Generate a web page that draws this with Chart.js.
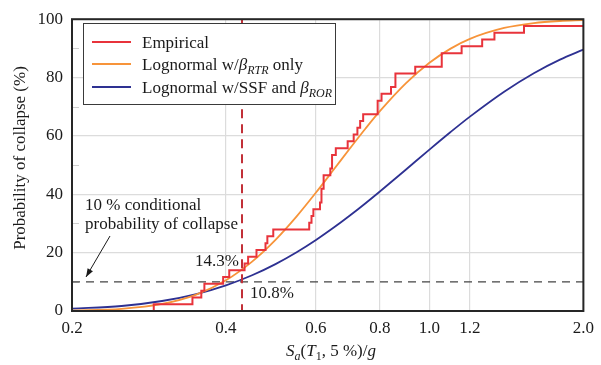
<!DOCTYPE html>
<html><head><meta charset="utf-8">
<script src="https://cdn.jsdelivr.net/npm/chart.js@4/dist/chart.umd.min.js"></script>
<style>html,body{margin:0;padding:0;background:#fff}#wrap{width:601px;height:365px;position:relative}</style>
</head><body><div id="wrap"><canvas id="c" width="601" height="365"></canvas></div>
<script>
// ---- data ----
const xTicks = [0.2, 0.4, 0.6, 0.8, 1.0, 1.2, 2.0];
const yTicks = [0, 20, 40, 60, 80, 100];

// Empirical collapse fragility (step function): Sa/g at which each step occurs, and % collapsed
const empX = [0.2, 0.289, 0.344, 0.358, 0.363, 0.395, 0.406, 0.435, 0.442, 0.459, 0.478, 0.482, 0.495,
  0.582, 0.588, 0.593, 0.611, 0.615, 0.621, 0.640, 0.645, 0.656, 0.692, 0.711, 0.723, 0.732, 0.742,
  0.792, 0.806, 0.841, 0.858, 0.938, 1.057, 1.156, 1.268, 1.340, 1.531, 2.0];
const empY = [0, 2.33, 4.65, 6.98, 9.30, 11.63, 13.95, 16.28, 18.60, 20.93, 23.26, 25.58, 27.91,
  30.23, 32.56, 34.88, 37.21, 41.86, 46.51, 48.84, 53.49, 55.81, 58.14, 60.47, 62.79, 65.12, 67.44,
  72.09, 74.42, 76.74, 81.40, 83.72, 88.37, 90.70, 93.02, 95.35, 97.67, 97.67];

// Lognormal curves sampled along Sa/g
const curveX = [0.2, 0.25, 0.3, 0.35, 0.4, 0.45, 0.5, 0.55, 0.6, 0.65, 0.7, 0.75, 0.8, 0.9, 1.0, 1.1, 1.2, 1.4, 1.6, 1.8, 2.0];
const rtrY = [0.14, 0.76, 2.44, 5.64, 10.53, 16.92, 24.38, 32.43, 40.59, 48.48, 55.84, 62.53, 68.47, 78.08, 85.06, 89.92, 93.25, 96.99, 98.66, 99.39, 99.72];
const rorY = [0.8, 1.71, 3.43, 5.81, 8.79, 12.25, 16.07, 20.13, 24.33, 28.58, 32.80, 36.94, 40.96, 48.50, 55.31, 61.34, 66.62, 75.17, 81.50, 86.16, 89.59];

const refSa = 0.43;      // vertical dashed line
const refP = 10;         // 10 % conditional probability line
const labelEmp = "14.3%";
const labelRor = "10.8%";

const FONT = "'Liberation Serif','Times New Roman',serif";
Chart.defaults.font.family = FONT;
Chart.defaults.font.size = 17;
Chart.defaults.color = '#1a1a1a';

function rich(ctx, parts, x, y, align, base, sub) {
  base = base || 17; sub = sub || 12;
  const f = p => `${p.i ? 'italic ' : ''}${p.s ? sub : base}px ${FONT}`;
  let w = 0;
  parts.forEach(p => { ctx.font = f(p); p.w = ctx.measureText(p.t).width; w += p.w; });
  let cx = align === 'center' ? x - w / 2 : x;
  ctx.textAlign = 'left'; ctx.textBaseline = 'alphabetic';
  parts.forEach(p => { ctx.font = f(p); ctx.fillText(p.t, cx, y + (p.s ? 4 : 0)); cx += p.w; });
}

const deco = {
  id: 'deco',
  beforeDatasetsDraw(chart) {
    const { ctx, chartArea: a, scales: { x, y } } = chart;
    ctx.save();
    ctx.strokeStyle = '#cfcfcf'; ctx.lineWidth = 1;
    for (let v = 10; v < 100; v += 20) {
      const py = Math.round(y.getPixelForValue(v)) + 0.5;
      ctx.beginPath(); ctx.moveTo(a.left, py); ctx.lineTo(a.left + 7, py); ctx.stroke();
    }
    // 10 % line
    ctx.setLineDash([8, 6]); ctx.strokeStyle = '#444'; ctx.lineWidth = 1.3;
    const py = y.getPixelForValue(refP);
    ctx.beginPath(); ctx.moveTo(a.left, py); ctx.lineTo(a.right, py); ctx.stroke();
    ctx.restore();
  },
  afterDatasetsDraw(chart) {
    const { ctx, chartArea: a, scales: { x, y } } = chart;
    ctx.save();
    // vertical dashed red line
    ctx.setLineDash([9, 6]); ctx.strokeStyle = '#c23038'; ctx.lineWidth = 2;
    const px = x.getPixelForValue(refSa);
    ctx.beginPath(); ctx.moveTo(px, a.top); ctx.lineTo(px, a.bottom); ctx.stroke();
    ctx.setLineDash([]);
    // plot frame
    ctx.strokeStyle = '#262626'; ctx.lineWidth = 2;
    ctx.strokeRect(a.left, a.top, a.right - a.left, a.bottom - a.top);

    // legend
    const lx = 83.5, ly = 23.5, lw = 252, lh = 81;
    ctx.fillStyle = '#fff'; ctx.fillRect(lx, ly, lw, lh);
    ctx.strokeStyle = '#3a3a3a'; ctx.lineWidth = 1; ctx.strokeRect(lx, ly, lw, lh);
    const items = [
      { c: '#e8333b', y: 42, parts: [{ t: 'Empirical' }] },
      { c: '#f7943a', y: 64, parts: [{ t: 'Lognormal w/' }, { t: 'β', i: 1 }, { t: 'RTR', i: 1, s: 1 }, { t: ' only' }] },
      { c: '#2e3192', y: 87, parts: [{ t: 'Lognormal w/SSF and ' }, { t: 'β', i: 1 }, { t: 'ROR', i: 1, s: 1 }] }
    ];
    items.forEach(it => {
      ctx.strokeStyle = it.c; ctx.lineWidth = 2;
      ctx.beginPath(); ctx.moveTo(92, it.y); ctx.lineTo(131, it.y); ctx.stroke();
      ctx.fillStyle = '#1a1a1a';
      rich(ctx, it.parts, 142, it.y + 6, 'left');
    });

    // annotations
    ctx.fillStyle = '#1a1a1a';
    ctx.font = `17px ${FONT}`; ctx.textAlign = 'left'; ctx.textBaseline = 'alphabetic';
    ctx.fillText('10 % conditional', 85, 210);
    ctx.fillText('probability of collapse', 85, 229);
    // arrow
    const ax0 = 110, ay0 = 236, ax1 = 86, ay1 = 277;
    ctx.strokeStyle = '#1a1a1a'; ctx.lineWidth = 1;
    ctx.beginPath(); ctx.moveTo(ax0, ay0); ctx.lineTo(ax1, ay1); ctx.stroke();
    const ang = Math.atan2(ay1 - ay0, ax1 - ax0);
    ctx.beginPath(); ctx.moveTo(ax1, ay1);
    ctx.lineTo(ax1 - 9 * Math.cos(ang - 0.35), ay1 - 9 * Math.sin(ang - 0.35));
    ctx.lineTo(ax1 - 9 * Math.cos(ang + 0.35), ay1 - 9 * Math.sin(ang + 0.35));
    ctx.closePath(); ctx.fill();

    ctx.fillText(labelEmp, 195, 266);
    ctx.fillText(labelRor, 250, 298);

    // axis titles
    rich(ctx, [{ t: 'S', i: 1 }, { t: 'a', i: 1, s: 1 }, { t: '(' }, { t: 'T', i: 1 }, { t: '1', s: 1 }, { t: ', 5 %)/' }, { t: 'g', i: 1 }], 331, 356, 'center');
    ctx.save();
    ctx.translate(21, 158); ctx.rotate(-Math.PI / 2);
    ctx.font = `17px ${FONT}`; ctx.textAlign = 'center'; ctx.textBaseline = 'middle';
    ctx.fillText('Probability of collapse (%)', 0, 0);
    ctx.restore();
    ctx.restore();
  }
};

new Chart(document.getElementById('c'), {
  type: 'line',
  data: {
    datasets: [
      { label: 'Empirical', data: empX.map((v, i) => ({ x: v, y: empY[i] })), borderColor: '#e8333b', borderWidth: 2, stepped: 'before', pointRadius: 0, fill: false },
      { label: 'Lognormal w/βRTR only', data: curveX.map((v, i) => ({ x: v, y: rtrY[i] })), borderColor: '#f7943a', borderWidth: 1.8, cubicInterpolationMode: 'monotone', pointRadius: 0, fill: false },
      { label: 'Lognormal w/SSF and βROR', data: curveX.map((v, i) => ({ x: v, y: rorY[i] })), borderColor: '#2e3192', borderWidth: 1.8, cubicInterpolationMode: 'monotone', pointRadius: 0, fill: false }
    ]
  },
  options: {
    responsive: false, animation: false, devicePixelRatio: 1,
    layout: { padding: { top: 12, right: 12, left: 0, bottom: 0 } },
    plugins: { legend: { display: false }, tooltip: { enabled: false } },
    scales: {
      x: {
        type: 'logarithmic', min: 0.2, max: 2.0,
        afterBuildTicks: s => { s.ticks = xTicks.map(v => ({ value: v })); },
        afterFit: s => { s.height = 54; },
        ticks: { callback: v => Number(v).toFixed(1), padding: 7, maxRotation: 0, autoSkip: false, color: '#1a1a1a' },
        grid: { color: '#dcdcdc', lineWidth: 1.2, drawTicks: false },
        border: { display: false }
      },
      y: {
        min: 0, max: 100,
        afterBuildTicks: s => { s.ticks = yTicks.map(v => ({ value: v })); },
        afterFit: s => { s.width = 72; },
        ticks: { padding: 9, color: '#1a1a1a' },
        grid: { color: '#dcdcdc', lineWidth: 1.2, drawTicks: false },
        border: { display: false }
      }
    }
  },
  plugins: [deco]
});
</script></body></html>
